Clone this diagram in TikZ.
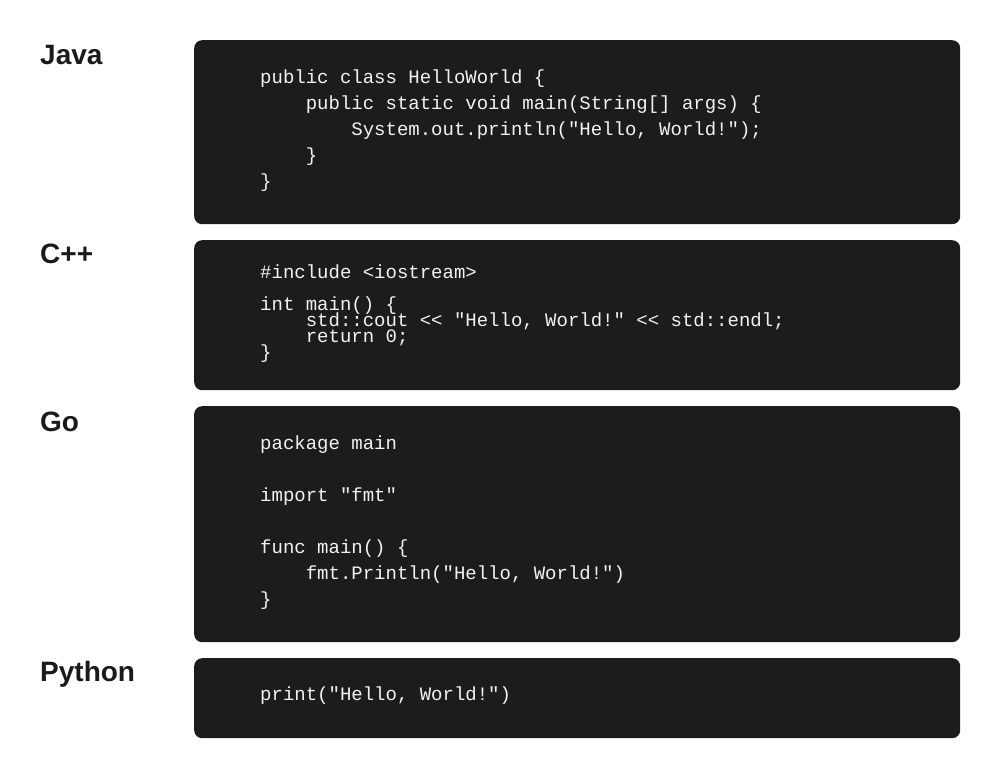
\documentclass[tikz,border=0pt]{standalone}
\usepackage{fontspec}
\setmainfont{Liberation Sans}
\newfontfamily\codefont{Liberation Mono}
\definecolor{boxbg}{HTML}{1C1C1C}
\definecolor{codefg}{HTML}{F2F2F2}
\definecolor{labelfg}{HTML}{1A1A1A}
\tikzset{
  codebox/.style={fill=boxbg, draw=none, rounded corners=8pt, anchor=north west, inner sep=0pt},
  langlabel/.style={anchor=base west, inner sep=0pt, text=labelfg, font=\fontsize{28}{28}\selectfont\bfseries},
  codeline/.style={anchor=base west, inner sep=0pt, text=codefg, font=\codefont\fontsize{19}{19}\selectfont},
}
\begin{document}
\begin{tikzpicture}[x=1pt,y=-1pt]
\useasboundingbox (0,0) rectangle (1001,779);
\fill[white] (0,0) rectangle (1001,779);
% boxes
\node[codebox, minimum width=766pt, minimum height=184pt] (javabox) at (194,40) {};
\node[codebox, minimum width=766pt, minimum height=150pt] (cppbox) at (194,240) {};
\node[codebox, minimum width=766pt, minimum height=236pt] (gobox) at (194,406) {};
\node[codebox, minimum width=766pt, minimum height=80pt] (pybox) at (194,658) {};
% labels
\node[langlabel] (javalbl) at (40,64) {Java};
\node[langlabel] (cpplbl) at (40,263) {C++};
\node[langlabel] (golbl) at (40,431) {Go};
\node[langlabel] (pylbl) at (40,681) {Python};
% Java
\node[codeline] (j1) at (260,83) {public class HelloWorld \{};
\node[codeline] (j2) at (305.6,109) {public static void main(String[] args) \{};
\node[codeline] (j3) at (351.2,135) {System.out.println("Hello, World!");};
\node[codeline] (j4) at (305.6,161) {\}};
\node[codeline] (j5) at (260,187) {\}};
% C++
\node[codeline] (c1) at (260,278) {\#include <iostream>};
\node[codeline] (c2) at (260,310) {int main() \{};
\node[codeline] (c3) at (305.6,326) {std::cout << "Hello, World!" << std::endl;};
\node[codeline] (c4) at (305.6,342) {return 0;};
\node[codeline] (c5) at (260,358) {\}};
% Go
\node[codeline] (g1) at (260,449) {package main};
\node[codeline] (g2) at (260,501) {import "fmt"};
\node[codeline] (g3) at (260,553) {func main() \{};
\node[codeline] (g4) at (305.6,579) {fmt.Println("Hello, World!")};
\node[codeline] (g5) at (260,605) {\}};
% Python
\node[codeline] (p1) at (260,700) {print("Hello, World!")};
\end{tikzpicture}
\end{document}
